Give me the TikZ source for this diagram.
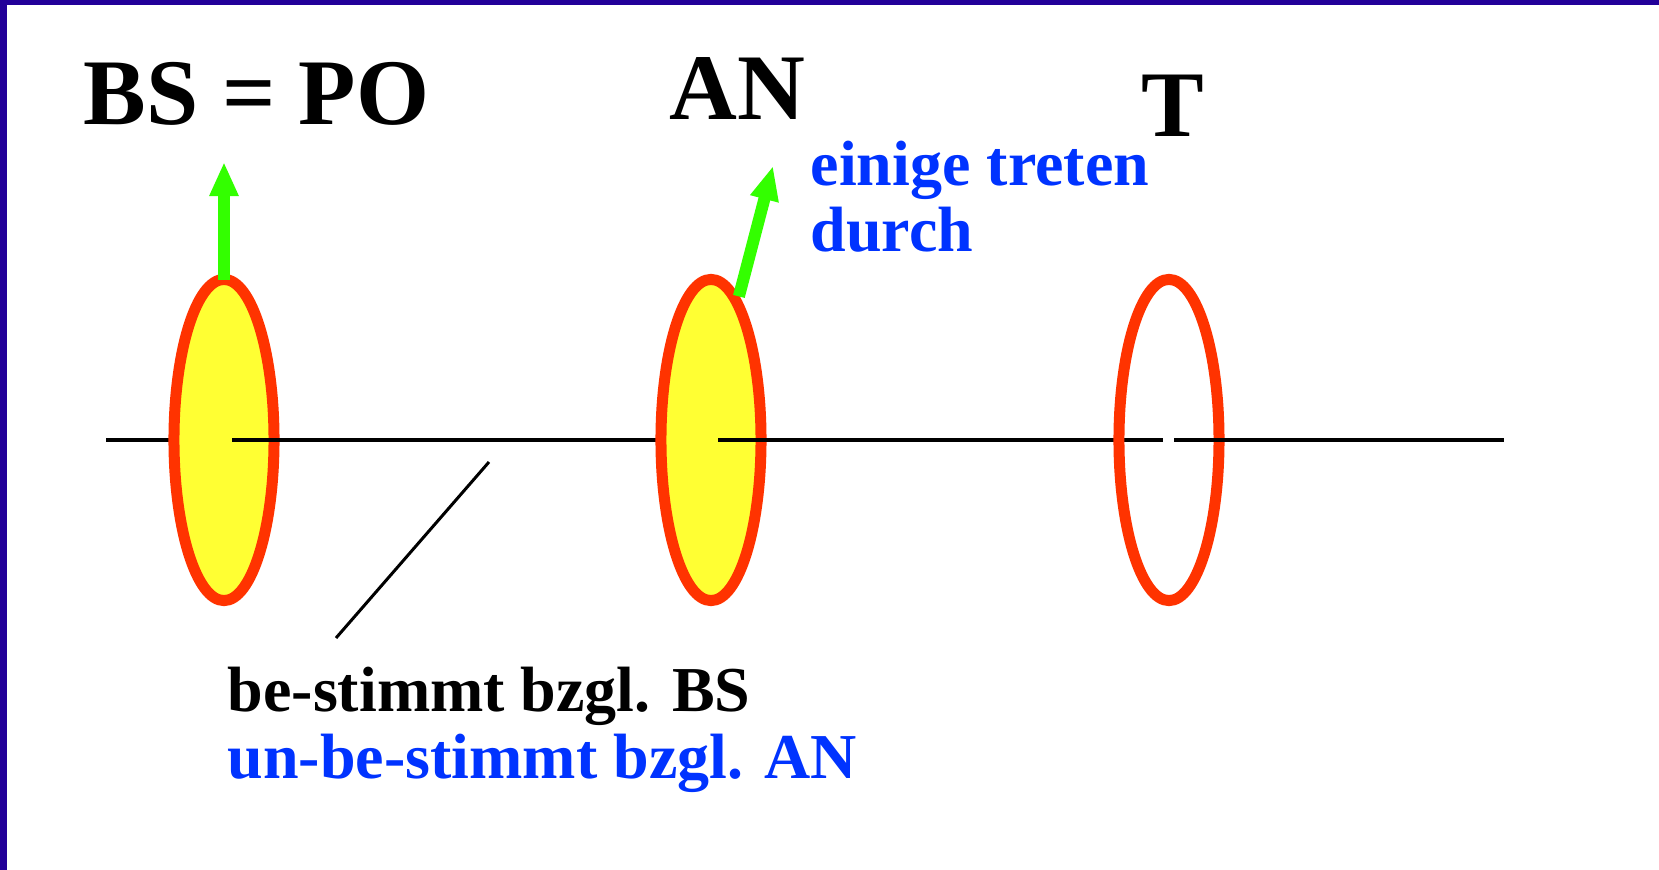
\documentclass[tikz,border=0pt]{standalone}
\usepackage{fontspec}
\setmainfont{Liberation Serif}
\usetikzlibrary{arrows.meta, positioning, shapes.geometric}
\definecolor{pnframe}{HTML}{220099}
\definecolor{pnred}{HTML}{FF3300}
\definecolor{pnyellow}{HTML}{FFFF33}
\definecolor{pngreen}{HTML}{33FF00}
\definecolor{pnblue}{HTML}{0033FF}

\begin{document}
\begin{tikzpicture}[x=0.01cm, y=-0.01cm,
    lbl/.style={anchor=base west, inner sep=0pt, font=\fontsize{26.7}{32}\selectfont\bfseries},
    note/.style={anchor=base west, inner sep=0pt, align=left, font=\fontsize{18.2}{18.9}\selectfont\bfseries},
    disk/.style={ellipse, draw=pnred, fill=pnyellow, line width=0.11cm,
                 minimum width=1.0cm, minimum height=3.21cm, inner sep=0pt},
    ring/.style={disk, fill=none},
    axis/.style={line width=0.04cm},
    ray/.style={-{Triangle[length=0.34cm, width=0.27cm]}, pngreen, line width=0.12cm},
]
    \useasboundingbox (0,0) rectangle (1659,870);
    \fill[white] (0,0) rectangle (1659,870);
    \fill[pnframe] (0,0) rectangle (1659,5);
    \fill[pnframe] (0,0) rectangle (7,870);

    \node[lbl] (bspo) at (83,125) {BS = PO};
    \node[lbl] (an) at (669,120) {AN};
    \node[lbl] (t) at (1141,137) {T};
    \node[note, text=pnblue] (durch) at (810,252) {einige treten\\durch};

    \coordinate (a0) at (106,440);
    \coordinate (a1) at (1504,440);
    \coordinate (o1) at (224,440);
    \coordinate (o2) at (711,440);
    \coordinate (o3) at (1169,440);
    \coordinate (r1) at (224,162);
    \coordinate (r2) at (773,166);

    % axis passes behind the left half of each disk
    \draw[axis] (a0) -- (o1);
    \node[disk] (e1) at (o1) {};
    \draw[ray] (e1.north) ++(0,6) -- (r1);
    \draw[axis] ([xshift=0.08cm]o1) -- (o2);
    \node[disk] (e2) at (o2) {};
    \draw[axis] ([xshift=0.07cm]o2) -- ([xshift=-0.06cm]o3);
    \node[ring] (e3) at (o3) {};
    \draw[axis] ([xshift=0.05cm]o3) -- (a1);

    % some pass through
    \draw[ray] (e2.79) -- (r2);

    \coordinate (d1) at (489,462);
    \coordinate (d2) at (336,638);
    \draw[line width=0.03cm] (d1) -- (d2);

    \node[note] (bzgl) at (227,778) {be-stimmt bzgl. BS\\\color{pnblue}un-be-stimmt bzgl. AN};
\end{tikzpicture}
\end{document}
